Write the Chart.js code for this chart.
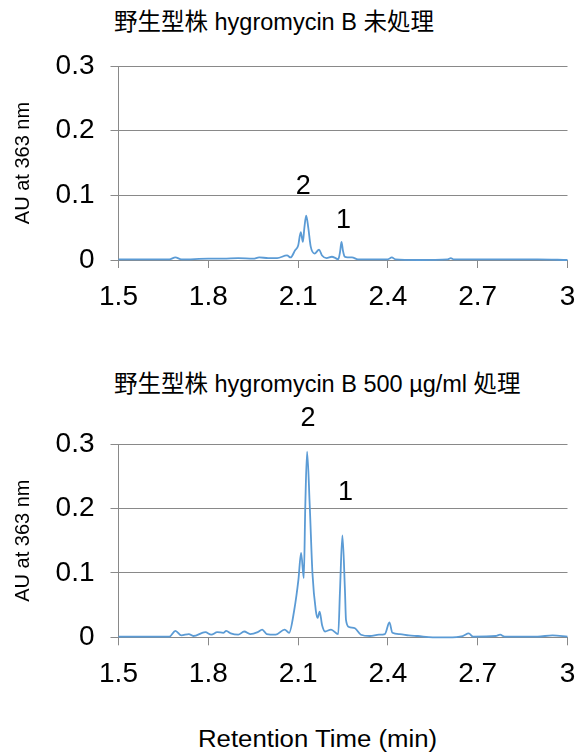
<!DOCTYPE html>
<html>
<head>
<meta charset="utf-8">
<script src="https://cdn.jsdelivr.net/npm/chart.js@4.4.1/dist/chart.umd.min.js"></script>
<style>
  html, body { margin: 0; padding: 0; background: #fff; width: 577px; height: 755px; overflow: hidden; }
  .panel { position: absolute; left: 0; width: 577px; }
  .txt { position: absolute; white-space: nowrap; color: #000;
         font-family: "Liberation Sans", Arial, "Noto Sans CJK JP", sans-serif; }
</style>
</head>
<body>
<div class="txt" style="left:114px; top:3px; font-size:23.5px;">野生型株 hygromycin B 未処理</div>
<div class="panel" style="top:0; height:330px;"><canvas id="untreated"></canvas></div>

<div class="txt" style="left:114px; top:365px; font-size:23.5px;">野生型株 hygromycin B 500 µg/ml 処理</div>
<div class="panel" style="top:360px; height:340px;"><canvas id="treated"></canvas></div>

<div class="txt" style="left:198px; top:726px; font-size:23px; transform-origin:0 0; transform:scaleX(1.12);">Retention Time (min)</div>

<script>
// Retention time (min) and absorbance at 363 nm — wild type, no hygromycin B
const untreatedTime = [1.50, 1.60, 1.67, 1.69, 1.71, 1.80, 1.85, 1.90, 1.95, 1.97, 2.00, 2.03,
  2.063, 2.075, 2.09, 2.100, 2.109, 2.116, 2.121, 2.127, 2.134, 2.142, 2.155, 2.170, 2.180, 2.195,
  2.213, 2.225, 2.234, 2.240, 2.245, 2.250, 2.256, 2.265, 2.28, 2.30, 2.35, 2.40, 2.413, 2.425, 2.50,
  2.60, 2.61, 2.62, 2.70, 2.80, 2.90, 3.00];
const untreatedAU = [0.001, 0.001, 0.001, 0.004, 0.001, 0.002, 0.002, 0.003, 0.002, 0.004, 0.003, 0.003,
  0.007, 0.004, 0.015, 0.022, 0.043, 0.028, 0.050, 0.0685, 0.050, 0.021, 0.010, 0.016, 0.007, 0.003,
  0.005, 0.003, 0.001, 0.012, 0.028, 0.014, 0.005, 0.004, 0.004, 0.001, 0.001, 0.001, 0.004, 0.001, 0.000,
  0.001, 0.003, 0.001, 0.001, 0.001, 0.001, 0.000];

// Wild type treated with hygromycin B 500 µg/ml
const treatedTime = [1.50, 1.60, 1.67, 1.69, 1.71, 1.735, 1.75, 1.79, 1.81, 1.83, 1.85, 1.86,
  1.875, 1.90, 1.92, 1.94, 1.965, 1.98, 1.995, 2.025, 2.055, 2.07, 2.087, 2.101, 2.110,
  2.119, 2.124, 2.130, 2.139, 2.148, 2.159, 2.165, 2.172, 2.180, 2.190, 2.210, 2.234, 2.240, 2.248,
  2.2565, 2.260, 2.270, 2.29, 2.31, 2.34, 2.37, 2.39, 2.405, 2.415, 2.44, 2.47, 2.50, 2.55, 2.60, 2.65,
  2.67, 2.685, 2.76, 2.775, 2.79, 2.90, 2.95, 3.00];
const treatedAU = [0.001, 0.001, 0.001, 0.010, 0.003, 0.005, 0.002, 0.008, 0.004, 0.008, 0.007, 0.010,
  0.006, 0.004, 0.009, 0.005, 0.008, 0.012, 0.005, 0.004, 0.012, 0.007, 0.042, 0.089, 0.131,
  0.092, 0.203, 0.288, 0.203, 0.099, 0.042, 0.030, 0.040, 0.019, 0.009, 0.012, 0.005, 0.073, 0.158,
  0.073, 0.027, 0.016, 0.014, 0.004, 0.002, 0.004, 0.005, 0.023, 0.007, 0.005, 0.003, 0.002, 0.000, 0.000, 0.002,
  0.006, 0.001, 0.002, 0.004, 0.001, 0.001, 0.003, 0.001];

// Axis ticks
const xTickValues = [1.5, 1.8, 2.1, 2.4, 2.7, 3];
const xTickLabels = ['1.5', '1.8', '2.1', '2.4', '2.7', '3'];
const yTickValues = [0, 0.1, 0.2, 0.3];
const yTickLabels = ['0', '0.1', '0.2', '0.3'];

// Numbered peaks
const peakNames = ['2', '1'];
const untreatedPeakTime = [2.127, 2.245];
const untreatedPeakAU = [0.0685, 0.028];
const treatedPeakTime = [2.130, 2.248];
const treatedPeakAU = [0.288, 0.158];

const GRID = '#898989';
const LINE = '#5b9bd5';
const FONT = '"Liberation Sans", Arial, sans-serif';

// Writes the peak numbers above their peaks
const peakNumbers = {
  id: 'peakNumbers',
  afterDatasetsDraw(chart, args, opts) {
    const ctx = chart.ctx;
    const xs = chart.scales.x, ys = chart.scales.y;
    ctx.save();
    ctx.font = '27px ' + FONT;
    ctx.fillStyle = '#000';
    ctx.textAlign = 'center';
    ctx.textBaseline = 'middle';
    opts.names.forEach((name, i) => {
      const px = xs.getPixelForValue(opts.times[i]) + opts.shift[i][0];
      const py = ys.getPixelForValue(opts.values[i]) + opts.shift[i][1];
      ctx.fillText(name, px, py);
    });
    ctx.restore();
  }
};

function makeChart(id, times, values, peakTimes, peakValues, cfg) {
  const points = times.map((t, i) => ({ x: t, y: values[i] }));
  return new Chart(document.getElementById(id), {
    type: 'line',
    data: {
      datasets: [{
        data: points,
        borderColor: LINE,
        borderWidth: 1.8,
        pointRadius: 0,
        cubicInterpolationMode: 'monotone',
        fill: false,
        clip: 4
      }]
    },
    options: {
      responsive: true,
      maintainAspectRatio: false,
      animation: false,
      events: [],
      layout: { padding: { top: cfg.padTop, right: 9.5, left: 0, bottom: 0 } },
      plugins: {
        legend: { display: false },
        tooltip: { enabled: false },
        title: { display: false },
        peakNumbers: { names: peakNames, times: peakTimes, values: peakValues, shift: cfg.shift }
      },
      scales: {
        x: {
          type: 'linear',
          min: 1.5,
          max: 3,
          afterBuildTicks: s => { s.ticks = xTickValues.map(v => ({ value: v })); },
          afterFit: s => { s.height = cfg.xHeight; s.paddingLeft = 0; s.paddingRight = 0; },
          ticks: {
            autoSkip: false,
            maxRotation: 0,
            padding: 12,
            color: '#000',
            font: { family: FONT, size: 28 },
            callback: (v, i) => xTickLabels[i]
          },
          grid: { drawOnChartArea: false, drawTicks: true, tickLength: 8, color: GRID, lineWidth: 1 },
          border: { display: true, color: GRID, width: 1 }
        },
        y: {
          min: 0,
          max: 0.3,
          afterBuildTicks: s => { s.ticks = yTickValues.map(v => ({ value: v })); },
          afterFit: s => { s.width = 118.5; s.paddingTop = 0; s.paddingBottom = 0; },
          ticks: {
            padding: 16,
            color: '#000',
            font: { family: FONT, size: 28 },
            callback: (v, i) => yTickLabels[i]
          },
          grid: { drawTicks: true, tickLength: 8, color: GRID, lineWidth: 1 },
          border: { display: true, color: GRID, width: 1 },
          title: {
            display: true,
            text: 'AU at 363 nm',
            color: '#000',
            font: { family: FONT, size: 20 },
            padding: { top: 11, bottom: 0 }
          }
        }
      }
    },
    plugins: [peakNumbers]
  });
}

makeChart('untreated', untreatedTime, untreatedAU, untreatedPeakTime, untreatedPeakAU,
  { padTop: 66, xHeight: 70, shift: [[-3, -29], [2, -21]] });
makeChart('treated', treatedTime, treatedAU, treatedPeakTime, treatedPeakAU,
  { padTop: 84, xHeight: 62.7, shift: [[1, -33], [3, -43]] });
</script>
</body>
</html>
